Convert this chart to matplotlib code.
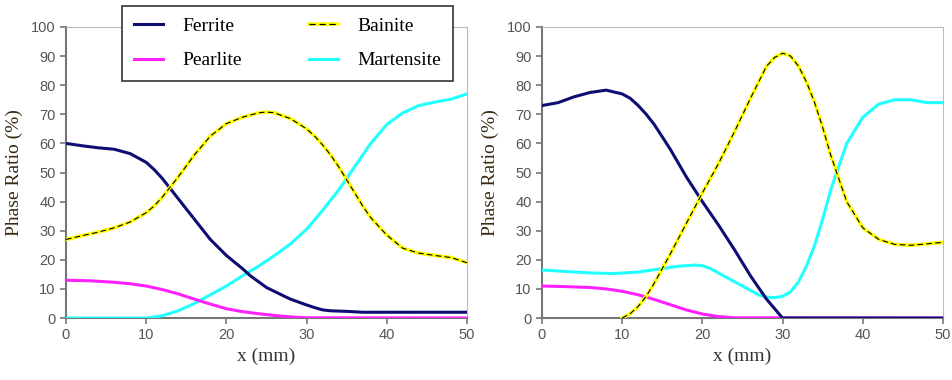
import matplotlib.pyplot as plt
from matplotlib.lines import Line2D

# Left panel data
x_l_fer = [0, 2, 4, 6, 8, 10, 11, 12, 13, 15, 17, 18, 20, 22, 23, 25, 27, 28, 30, 31, 32, 33, 35, 37, 40, 50]
fer_l = [60, 59.2, 58.5, 58, 56.5, 53.5, 51, 48, 44.5, 37.5, 30.5, 27, 21.5, 17, 14.5, 10.5, 7.8, 6.5, 4.5, 3.6, 2.8, 2.5, 2.3, 2, 2, 2]
x_l_pea = [0, 3, 6, 8, 10, 12, 14, 16, 18, 20, 22, 24, 26, 28, 30, 50]
pea_l = [13, 12.8, 12.3, 11.8, 11, 9.8, 8.3, 6.5, 4.8, 3.2, 2.2, 1.5, 0.9, 0.4, 0.1, 0]
x_l_bai = [0, 2, 4, 6, 8, 10, 11, 12, 13, 14, 16, 18, 20, 22, 24, 25, 26, 28, 30, 31, 32, 33, 34, 35, 36, 37, 38, 40, 42, 44, 46, 48, 50]
bai_l = [27, 28.3, 29.5, 31, 33, 36.2, 38.5, 41.5, 45, 48.5, 56, 62.5, 66.8, 69, 70.5, 70.8, 70.5, 68.5, 65, 62.5, 59.5, 56, 52, 47.5, 43, 38.5, 34.5, 28.5, 24, 22.3, 21.5, 20.8, 19]
x_l_mar = [0, 10, 12, 14, 16, 18, 20, 22, 24, 26, 28, 30, 32, 34, 35, 36, 38, 40, 42, 44, 46, 48, 50]
mar_l = [0, 0, 0.8, 2.5, 5, 8, 11, 14.5, 17.8, 21.5, 25.5, 30.5, 37, 44, 48, 52, 60, 66.5, 70.5, 73, 74.2, 75.2, 77]

# Right panel data
x_r_fer = [0, 2, 4, 6, 8, 10, 11, 12, 13, 14, 16, 18, 20, 22, 24, 26, 28, 30, 50]
fer_r = [73, 74, 76, 77.5, 78.3, 77, 75.5, 73, 70, 66.5, 58, 48.5, 40, 32, 23.5, 14.5, 6.5, 0, 0]
x_r_pea = [0, 3, 6, 8, 10, 12, 14, 16, 18, 20, 22, 24, 50]
pea_r = [11, 10.8, 10.5, 10, 9.2, 8, 6.4, 4.6, 2.8, 1.4, 0.5, 0.1, 0]
x_r_bai = [10, 11, 12, 13, 14, 16, 18, 20, 22, 24, 26, 27, 28, 29, 30, 31, 32, 33, 34, 35, 36, 38, 40, 42, 44, 46, 48, 50]
bai_r = [0, 1.5, 4, 7.5, 12, 22, 32.5, 43, 53, 64, 75.5, 81, 86.5, 89.5, 91, 90, 86.5, 81, 74, 65.5, 56, 40, 31, 27, 25.3, 25, 25.5, 26]
x_r_mar = [0, 3, 6, 9, 12, 15, 17, 19, 20, 21, 22, 24, 26, 27, 28, 29, 30, 31, 32, 33, 34, 35, 36, 37, 38, 40, 42, 44, 46, 48, 50]
mar_r = [16.5, 16, 15.5, 15.3, 15.8, 17, 17.8, 18.2, 18, 17, 15.5, 12.5, 9.5, 8, 7.2, 7, 7.5, 9, 12.5, 18, 25, 34, 44, 52, 60, 69, 73.5, 75, 75, 74, 74]

c_fer = '#0d0d73'
c_pea = '#ff22ff'
c_bai = '#ffff00'
c_mar = '#22ffff'
serif = 'Liberation Serif'
sans = 'Liberation Sans'

fig = plt.figure(figsize=(9.52, 3.80), dpi=100)
ax1 = fig.add_axes([0.0693, 0.163, 0.4212, 0.766])
ax2 = fig.add_axes([0.5693, 0.163, 0.4212, 0.766])

panels = [
    (ax1, x_l_fer, fer_l, x_l_pea, pea_l, x_l_bai, bai_l, x_l_mar, mar_l),
    (ax2, x_r_fer, fer_r, x_r_pea, pea_r, x_r_bai, bai_r, x_r_mar, mar_r),
]
for ax, xf, f, xp, p, xb, b, xm, m in panels:
    ax.plot(xm, m, color=c_mar, lw=2.2, zorder=3)
    ax.plot(xp, p, color=c_pea, lw=2.2, zorder=3)
    ax.plot(xf, f, color=c_fer, lw=2.2, zorder=4)
    ax.plot(xb, b, color=c_bai, lw=2.6, zorder=5)
    ax.plot(xb, b, color='black', lw=0.8, dashes=(5, 3), zorder=6)
    ax.set_xlim(0, 50)
    ax.set_ylim(0, 100)
    ax.set_xticks(range(0, 51, 10))
    ax.set_yticks(range(0, 101, 10))
    for s in ['top', 'right']:
        ax.spines[s].set_color('#bbbbbb')
    for s in ['left', 'bottom']:
        ax.spines[s].set_color('#777777')
        ax.spines[s].set_linewidth(1.5)
    ax.tick_params(direction='out', length=4, color='#777777', width=1.2,
                   labelsize=10.5, labelcolor='#555555')
    for lab in ax.get_xticklabels() + ax.get_yticklabels():
        lab.set_fontfamily(sans)
    ax.set_xlabel('x (mm)', fontfamily=serif, fontsize=14, color='#333333', labelpad=4)
    ax.set_ylabel('Phase Ratio (%)', fontfamily=serif, fontsize=14, color='#3a2a10', labelpad=6)

handles = [
    Line2D([], [], color=c_fer, lw=2.2),
    Line2D([], [], color=c_pea, lw=2.2),
    (Line2D([], [], color=c_bai, lw=2.6), Line2D([], [], color='black', lw=0.9, dashes=(5, 3))),
    Line2D([], [], color=c_mar, lw=2.2),
]
labels = ['Ferrite', 'Pearlite', 'Bainite', 'Martensite']
leg = fig.legend(handles, labels, ncol=2, loc='upper left',
                 bbox_to_anchor=(122 / 952, 1 - 82 / 380, 331 / 952, 76 / 380),
                 mode='expand', borderaxespad=0, prop={'family': serif, 'size': 14},
                 frameon=True, fancybox=False, edgecolor='#333333', framealpha=1,
                 handlelength=1.5, handletextpad=1.0, columnspacing=2.5,
                 borderpad=0.6, labelspacing=0.85)
leg.get_frame().set_linewidth(1.2)
leg.set_zorder(10)

fig.savefig('out.png', dpi=100)
